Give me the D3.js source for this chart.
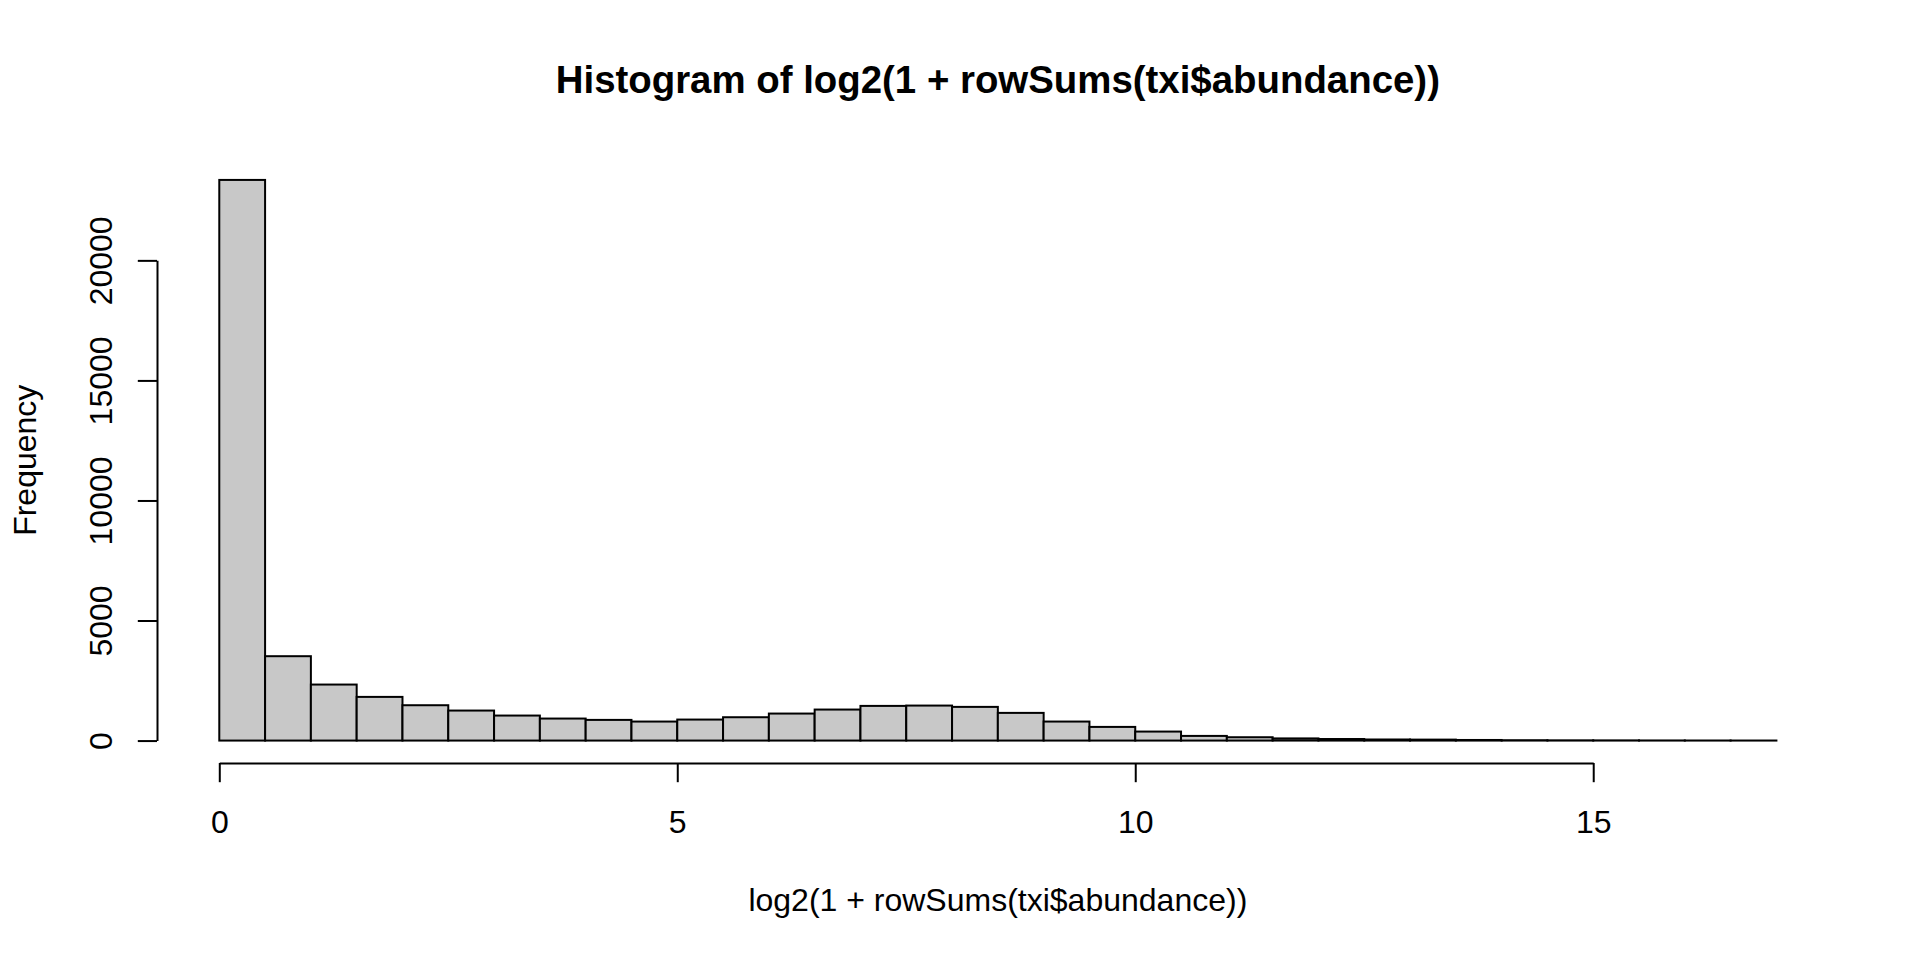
<!DOCTYPE html>
<html>
<head>
<meta charset="utf-8">
<script src="https://cdn.jsdelivr.net/npm/d3@7"></script>
<style>
  body { margin: 0; background: #fff; }
  svg text { font-family: "Liberation Sans", Arial, Helvetica, sans-serif; fill: #000; }
</style>
</head>
<body>
<svg id="chart" width="1920" height="960"></svg>
<script>
// histogram breaks (bin edges) and counts per bin
var breaks = [0, 0.5, 1, 1.5, 2, 2.5, 3, 3.5, 4, 4.5, 5, 5.5, 6, 6.5, 7, 7.5, 8, 8.5,
              9, 9.5, 10, 10.5, 11, 11.5, 12, 12.5, 13, 13.5, 14, 14.5, 15, 15.5, 16, 16.5, 17];
var counts = [23350, 3514, 2333, 1819, 1472, 1250, 1042, 917, 861, 792, 875, 972,
              1125, 1292, 1444, 1458, 1403, 1153, 792, 569, 375, 194, 139, 90,
              65, 45, 40, 25, 15, 10, 8, 5, 3, 2];
var xTicks = [0, 5, 10, 15];
var yTicks = [0, 5000, 10000, 15000, 20000];

var titleText = "Histogram of log2(1 + rowSums(txi$abundance))";
var xLabel = "log2(1 + rowSums(txi$abundance))";
var yLabel = "Frequency";

// build bins from the breaks
var bins = counts.map((c, i) => ({ x0: breaks[i], x1: breaks[i + 1], n: c }));

var svg = d3.select("#chart");
svg.append("rect").attr("width", 1920).attr("height", 960).attr("fill", "#fff");

// plot region like R: 4% padding on each side of the data range
var xmin = breaks[0], xmax = breaks[breaks.length - 1];
var xpad = (xmax - xmin) * 0.04;
var ymax = d3.max(counts);
var ypad = ymax * 0.04;

var plot = { left: 157, right: 1838.7, top: 157.5, bottom: 763 };

var x = d3.scaleLinear().domain([xmin - xpad, xmax + xpad]).range([plot.left, plot.right]);
var y = d3.scaleLinear().domain([-ypad, ymax + ypad]).range([plot.bottom, plot.top]);

var lineW = 2;
var tickLen = 19.2;
var fontPx = 32;

// bars
svg.append("g")
  .selectAll("rect")
  .data(bins)
  .join("rect")
    .attr("x", d => x(d.x0))
    .attr("width", d => x(d.x1) - x(d.x0))
    .attr("y", d => y(d.n))
    .attr("height", d => y(0) - y(d.n))
    .attr("fill", "#c8c8c8")
    .attr("stroke", "#000")
    .attr("stroke-width", lineW);

// x axis: line only spans the tick range, as R draws it
var xAxisScale = x.copy().domain([xTicks[0], xTicks[xTicks.length - 1]])
  .range([x(xTicks[0]), x(xTicks[xTicks.length - 1])]);
var gx = svg.append("g")
  .attr("transform", `translate(0,${plot.bottom})`)
  .call(d3.axisBottom(xAxisScale).tickValues(xTicks).tickFormat(d3.format("d"))
    .tickSize(tickLen).tickSizeOuter(0));
gx.select(".domain").attr("stroke-width", lineW);
gx.selectAll(".tick line").attr("stroke-width", lineW);
gx.selectAll(".tick text")
  .attr("y", 69.7).attr("dy", null)
  .style("font-size", fontPx + "px");

// y axis
var yAxisScale = y.copy().domain([yTicks[0], yTicks[yTicks.length - 1]])
  .range([y(yTicks[0]), y(yTicks[yTicks.length - 1])]);
var gy = svg.append("g")
  .attr("transform", `translate(${plot.left},0)`)
  .call(d3.axisLeft(yAxisScale).tickValues(yTicks).tickFormat(d3.format("d"))
    .tickSize(tickLen).tickSizeOuter(0));
gy.select(".domain").attr("stroke-width", lineW);
gy.selectAll(".tick line").attr("stroke-width", lineW);
gy.selectAll(".tick text")
  .attr("transform", "rotate(-90)")
  .attr("x", 0).attr("y", -45.3).attr("dy", null)
  .attr("text-anchor", "middle")
  .style("font-size", fontPx + "px");
svg.selectAll(".domain, .tick line").attr("stroke", "#000");

// titles
var cx = (plot.left + plot.right) / 2;
var cy = (plot.top + plot.bottom) / 2;

svg.append("text")
  .attr("x", cx).attr("y", 93)
  .attr("text-anchor", "middle")
  .style("font-size", (fontPx * 1.2) + "px")
  .style("font-weight", "bold")
  .text(titleText);

svg.append("text")
  .attr("x", cx).attr("y", 911)
  .attr("text-anchor", "middle")
  .style("font-size", fontPx + "px")
  .text(xLabel);

svg.append("text")
  .attr("transform", `translate(36,${cy}) rotate(-90)`)
  .attr("text-anchor", "middle")
  .style("font-size", fontPx + "px")
  .text(yLabel);
</script>
</body>
</html>
